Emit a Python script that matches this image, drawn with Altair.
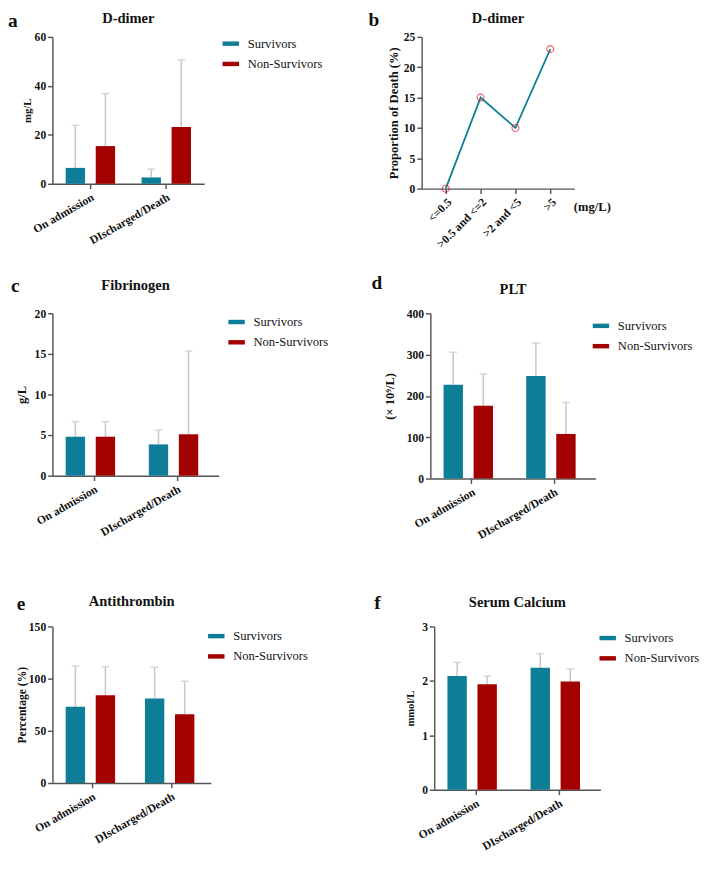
import altair as alt
import pandas as pd

SERIF = "Liberation Serif"
TEAL = "#0e7d97"
RED = "#a30000"
ERR = "#c6c6c6"
AXIS = "#555555"
INK = "#111111"

groups = ["Survivors", "Non-Survivors"]
timepoints = ["On admission", "DIscharged/Death"]

# a  D-dimer (mg/L)
dd_surv = [6.5, 2.6]
dd_surv_up = [23.9, 6.0]
dd_non = [15.4, 23.2]
dd_non_up = [36.9, 50.6]
dd_ticks = [0, 20, 40, 60]

# b  D-dimer categories vs proportion of death
dd_bins = ["<=0.5", ">0.5 and <=2", ">2 and <5", ">5"]
dd_death = [0, 15, 10, 23]
dd_death_ticks = [0, 5, 10, 15, 20, 25]

# c  Fibrinogen (g/L)
fib_surv = [4.8, 3.85]
fib_surv_up = [6.65, 5.6]
fib_non = [4.8, 5.1]
fib_non_up = [6.65, 15.35]
fib_ticks = [0, 5, 10, 15, 20]

# d  PLT (x10^9/L)
plt_surv = [227, 248]
plt_surv_up = [306, 328]
plt_non = [176, 108]
plt_non_up = [253, 184]
plt_ticks = [0, 100, 200, 300, 400]

# e  Antithrombin (%)
at_surv = [73, 81]
at_surv_up = [112, 111]
at_non = [84, 66]
at_non_up = [111.5, 97.5]
at_ticks = [0, 50, 100, 150]

# f  Serum calcium (mmol/L)
ca_surv = [2.09, 2.24]
ca_surv_up = [2.34, 2.5]
ca_non = [1.94, 1.99]
ca_non_up = [2.09, 2.22]
ca_ticks = [0, 1, 2, 3]

AX = dict(domainColor=AXIS, domainWidth=1.5, tickColor=AXIS, tickWidth=1.5,
          tickSize=5, labelFont=SERIF, labelFontWeight="bold", labelColor=INK,
          labelFontSize=12, grid=False, titleFont=SERIF, titleFontWeight="bold",
          titleColor=INK)

SWATCH = "M-1,-0.27L1,-0.27L1,0.27L-1,0.27Z"


def annot(letter, title, w, lx, ly, ty):
    d = pd.DataFrame({"t": [letter]})
    lt = alt.Chart(d).mark_text(align="left", baseline="middle", font=SERIF,
                                fontSize=20, fontWeight="bold", color=INK).encode(
        text="t:N", x=alt.value(lx), y=alt.value(ly))
    d2 = pd.DataFrame({"t": [title]})
    tt = alt.Chart(d2).mark_text(align="center", baseline="middle", font=SERIF,
                                 fontSize=15, fontWeight="bold", color=INK).encode(
        text="t:N", x=alt.value(w / 2), y=alt.value(ty))
    return lt, tt


def bar_panel(letter, title, ytitle, ytsize, ytpad, ticks, surv, surv_up, non, non_up,
              w, h, pi, po, lx, ly, ty, legx, legy):
    rows = []
    for i, t in enumerate(timepoints):
        rows.append({"time": t, "group": groups[0], "mean": surv[i], "upper": surv_up[i]})
        rows.append({"time": t, "group": groups[1], "mean": non[i], "upper": non_up[i]})
    df = pd.DataFrame(rows)
    base = alt.Chart(df)
    x = alt.X("time:N", sort=timepoints,
              scale=alt.Scale(paddingInner=0, paddingOuter=0),
              axis=alt.Axis(title=None, labelAngle=-30, labelPadding=3, **AX))
    xo = alt.XOffset("group:N", sort=groups,
                     scale=alt.Scale(paddingInner=pi, paddingOuter=po))
    y = alt.Y("mean:Q", scale=alt.Scale(domain=[ticks[0], ticks[-1]], nice=False),
              axis=alt.Axis(values=ticks, format="d", title=ytitle, titleFontSize=ytsize,
                            titlePadding=ytpad, labelPadding=2, **AX))
    bars = base.mark_bar().encode(
        x=x, xOffset=xo, y=y,
        color=alt.Color("group:N", sort=groups,
                        scale=alt.Scale(domain=groups, range=[TEAL, RED]),
                        legend=alt.Legend(title=None, orient="none", legendX=legx,
                                          legendY=legy, symbolType=SWATCH,
                                          symbolSize=289, symbolStrokeWidth=0,
                                          labelFont=SERIF, labelFontSize=13,
                                          labelColor=INK, labelOffset=9,
                                          rowPadding=5, padding=0)))
    err = base.mark_rule(color=ERR, strokeWidth=1.5).encode(
        x=x, xOffset=xo, y="mean:Q", y2="upper:Q")
    cap = base.mark_tick(color=ERR, thickness=1.5, size=8).encode(
        x=x, xOffset=xo, y="upper:Q")
    lt, tt = annot(letter, title, w, lx, ly, ty)
    return alt.layer(err, cap, bars, lt, tt).properties(width=w, height=h)


# ---- panel b (line) ----
dfb = pd.DataFrame({"bin": dd_bins, "death": dd_death})
xb = alt.X("bin:N", sort=dd_bins, scale=alt.Scale(type="point", padding=0.69),
           axis=alt.Axis(title="(mg/L)", titleX=157, titleY=19, titleAlign="left",
                         titleBaseline="middle", titleAngle=0, titleFontSize=13,
                         labelAngle=-45, labelPadding=3, **AX))
yb = alt.Y("death:Q", scale=alt.Scale(domain=[0, 25], nice=False),
           axis=alt.Axis(values=dd_death_ticks, format="d", title="Proportion of Death (%)",
                         titleFontSize=13, titlePadding=3, labelPadding=2, **AX))
line_b = alt.Chart(dfb).mark_line(color=TEAL, strokeWidth=1.8).encode(x=xb, y=yb)
pts_b = alt.Chart(dfb).mark_point(shape="circle", filled=False, color="#e0202a",
                                  size=50, strokeWidth=1.2).encode(x=xb, y=yb)
lb, tb = annot("b", "D-dimer", 158, -55, -17, -19)
panel_b = alt.layer(line_b, pts_b, lb, tb).properties(width=158, height=157)

panel_a = bar_panel("a", "D-dimer", "mg/L", 11, 2, dd_ticks, dd_surv, dd_surv_up,
                    dd_non, dd_non_up, 157, 152, 0.355, 0.44, -46, -16, -19, 176, -1.5)
panel_c = bar_panel("c", "Fibrinogen", "g/L", 13, 6, fib_ticks, fib_surv, fib_surv_up,
                    fib_non, fib_non_up, 172, 168, 0.324, 0.43, -43, -28, -29, 182, 0.5)
panel_d = bar_panel("d", "PLT", "(\u00d7 10\u2079/L)", 13, 10, plt_ticks, plt_surv, plt_surv_up,
                    plt_non, plt_non_up, 171, 171, 0.324, 0.42, -61, -31, -25, 168, 4.5)
panel_e = bar_panel("e", "Antithrombin", "Percentage (%)", 12, 0, at_ticks, at_surv, at_surv_up,
                    at_non, at_non_up, 164, 162, 0.333, 0.41, -37, -23, -26, 161, 1.5)
panel_f = bar_panel("f", "Serum Calcium", "mmol/L", 11, 6, ca_ticks, ca_surv, ca_surv_up,
                    ca_non, ca_non_up, 172, 169, 0.328, 0.45, -62, -24, -25, 171, 3.5)

row1 = alt.hconcat(panel_a, panel_b, spacing=225, bounds="flush").resolve_scale(color="independent")
row2 = alt.hconcat(panel_c, panel_d, spacing=219, bounds="flush").resolve_scale(color="independent")
row3 = alt.hconcat(panel_e, panel_f, spacing=231, bounds="flush").resolve_scale(color="independent")

top = alt.vconcat(row1, row2, spacing=24).resolve_scale(color="independent")
chart = alt.vconcat(top, row3, spacing=54).resolve_scale(color="independent").properties(
    padding={"left": 0, "top": -12, "right": 0, "bottom": 0},
    background="white",
).configure_view(stroke=None).configure_legend(labelFont=SERIF, labelFontSize=13)

chart.save("out.html", embed_options={"renderer": "svg", "actions": False})
